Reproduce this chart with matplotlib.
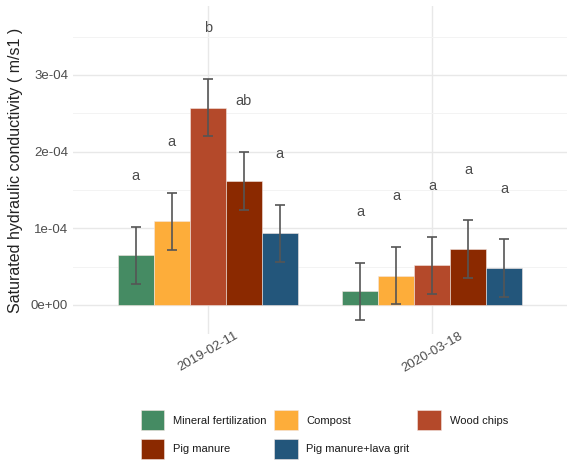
import matplotlib.pyplot as plt
import numpy as np

plt.rcParams['font.family'] = ['Liberation Sans', 'DejaVu Sans']

# datos
dates = ['2019-02-11', '2020-03-18']
treatments = ['Mineral fertilization', 'Compost', 'Wood chips',
              'Pig manure', 'Pig manure+lava grit']
colors = ['#458B63', '#FDAD3A', '#B4492A', '#8B2900', '#23567B']

means_2019 = [0.645e-4, 1.09e-4, 2.575e-4, 1.62e-4, 0.933e-4]
means_2020 = [0.178e-4, 0.383e-4, 0.518e-4, 0.728e-4, 0.478e-4]
se_2019 = [0.374e-4, 0.374e-4, 0.375e-4, 0.377e-4, 0.376e-4]
se_2020 = [0.374e-4, 0.378e-4, 0.374e-4, 0.377e-4, 0.380e-4]
letters_2019 = ['a', 'a', 'b', 'ab', 'a']
letters_2020 = ['a', 'a', 'a', 'a', 'a']

means = np.array([means_2019, means_2020])
ses = np.array([se_2019, se_2020])
letters = [letters_2019, letters_2020]

fig = plt.figure(figsize=(5.67, 4.61), dpi=100)
ax = fig.add_axes([0.1287, 0.2755, 0.8713, 0.7115])

x = np.arange(1, len(dates) + 1)
width = 0.8 / len(treatments)
txt_color = '#4D4D4D'

handles = []
for i, (t, c) in enumerate(zip(treatments, colors)):
    xpos = x + (i - 2) * width
    b = ax.bar(xpos, means[:, i], width=width, color=c, edgecolor='#F3E6E2',
               linewidth=0.4, label=t, zorder=2)
    handles.append(b)
    ax.errorbar(xpos, means[:, i], yerr=ses[:, i], fmt='none', ecolor='#555555',
                elinewidth=1.2, capsize=3.6, capthick=1.2, zorder=3)
    for j in range(len(dates)):
        ax.text(xpos[j], means[j, i] + ses[j, i] + 0.66e-4, letters[j][i],
                ha='center', va='center', fontsize=10.5, color=txt_color, zorder=4)

# ejes estilo ggplot minimal
ax.set_xlim(0.4, 2.6)
ax.set_ylim(-0.38e-4, 3.90e-4)
ax.set_yticks([0, 1e-4, 2e-4, 3e-4])
ax.set_yticklabels(['0e+00', '1e-04', '2e-04', '3e-04'])
ax.set_yticks([0.5e-4, 1.5e-4, 2.5e-4, 3.5e-4], minor=True)
ax.set_xticks(x)
ax.set_xticklabels(dates, rotation=30, ha='center')
ax.grid(which='major', axis='both', color='#E8E8E8', linewidth=1.0, zorder=0)
ax.grid(which='minor', axis='y', color='#F3F3F3', linewidth=0.7, zorder=0)
ax.set_axisbelow(True)
for s in ax.spines.values():
    s.set_visible(False)
ax.tick_params(axis='both', which='both', length=0, labelsize=9.5,
               labelcolor=txt_color)
ax.tick_params(axis='x', pad=-3)
ax.set_ylabel('Saturated hydraulic conductivity ( m/s1 )', fontsize=11.5,
              color='#222222', labelpad=6)

# leyenda por filas (3 columnas)
order = [0, 3, 1, 4, 2]
fig.legend([handles[k] for k in order], [treatments[k] for k in order],
           ncol=3, loc='center', bbox_to_anchor=(0.572, 0.0575), frameon=False,
           fontsize=8, labelcolor='#1A1A1A', handlelength=2.1, handleheight=2.4,
           handletextpad=0.8, columnspacing=0.7, labelspacing=0.75)

plt.savefig('out.png', dpi=100)
